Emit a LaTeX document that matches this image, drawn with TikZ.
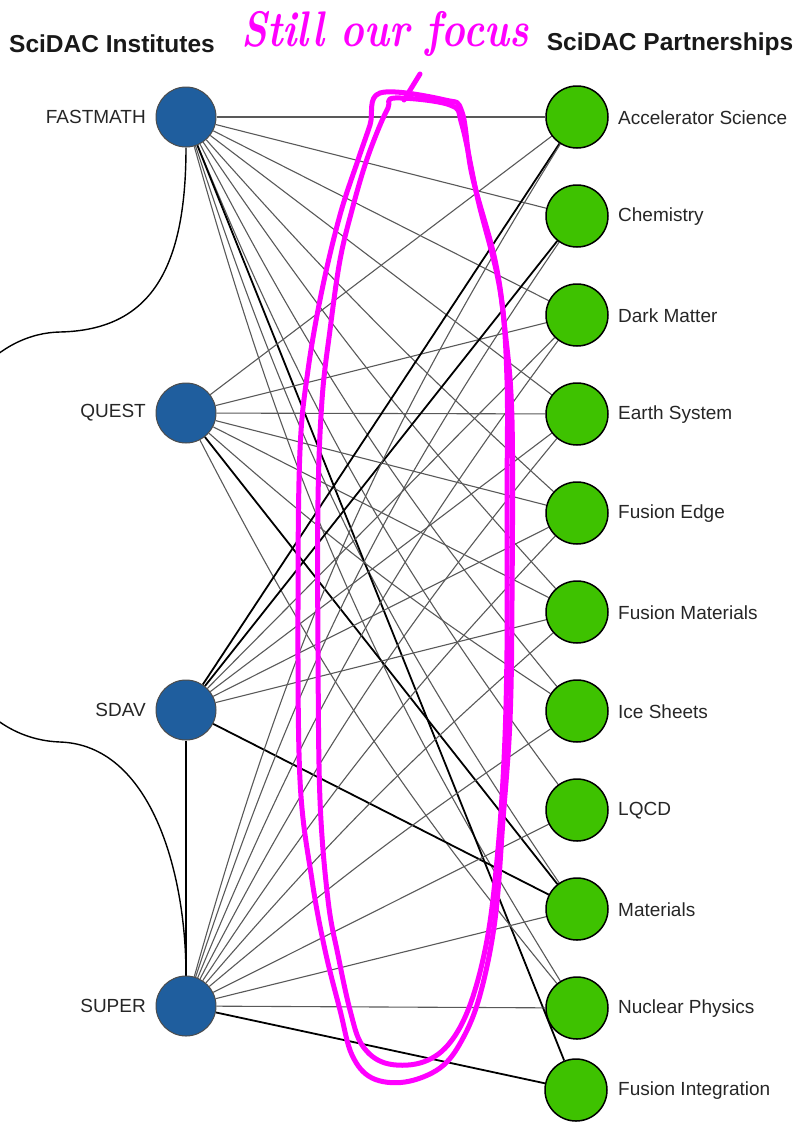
\documentclass[tikz,border=0pt]{standalone}
\usepackage{fontspec}
\setsansfont{Liberation Sans}
\usetikzlibrary{backgrounds}
\definecolor{instblue}{HTML}{1F5E9E}
\definecolor{partgreen}{HTML}{3EC200}
\definecolor{penpink}{HTML}{FF00FF}

\begin{document}
\begin{tikzpicture}[x=1pt,y=-1pt]
    \tikzstyle{every node}+=[inner sep=0pt]
    \tikzstyle{inst}=[circle,draw=black!70,fill=instblue,minimum size=60pt,line width=1pt]
    \tikzstyle{part}=[circle,draw=black,fill=partgreen,minimum size=62pt,line width=1.5pt]
    \tikzstyle{lab}=[font=\sffamily\fontsize{19}{19}\selectfont,text=black!85]
    \tikzstyle{head}=[font=\sffamily\bfseries\fontsize{24.5}{24.5}\selectfont,text=black!90]
    \tikzstyle{link}=[draw=black!65,line width=1.1pt]
    \tikzstyle{mainlink}=[draw=black,line width=1.8pt]
    \tikzstyle{pen}=[draw=penpink,line width=5pt,line cap=round,line join=round]
    \useasboundingbox (0,0) rectangle (795,1128);

    % headings
    \node[head] (insthead) at (112,44) {SciDAC Institutes};
    \node[head] (parthead) at (670,44) {SciDAC Partnerships};

    % institutes
    \node[inst] (fastmath) at (186,117) {};
    \node[lab,anchor=east] (fastmath-l) at (146,117) {FASTMATH};
    \node[inst] (quest) at (186,413) {};
    \node[lab,anchor=east] (quest-l) at (146,413) {QUEST};
    \node[inst] (sdav) at (186,710) {};
    \node[lab,anchor=east] (sdav-l) at (146,710) {SDAV};
    \node[inst] (super) at (186,1006) {};
    \node[lab,anchor=east] (super-l) at (146,1006) {SUPER};

    % partnerships
    \node[part] (accel) at (577,117) {};
    \node[lab,anchor=west] (accel-l) at (618,118) {Accelerator Science};
    \node[part] (chem) at (577,216) {};
    \node[lab,anchor=west] (chem-l) at (618,217) {Chemistry};
    \node[part] (dark) at (577,315) {};
    \node[lab,anchor=west] (dark-l) at (618,316) {Dark Matter};
    \node[part] (earth) at (577,414) {};
    \node[lab,anchor=west] (earth-l) at (618,415) {Earth System};
    \node[part] (fedge) at (577,513) {};
    \node[lab,anchor=west] (fedge-l) at (618,514) {Fusion Edge};
    \node[part] (fmat) at (577,612) {};
    \node[lab,anchor=west] (fmat-l) at (618,613) {Fusion Materials};
    \node[part] (ice) at (577,711) {};
    \node[lab,anchor=west] (ice-l) at (618,712) {Ice Sheets};
    \node[part] (lqcd) at (577,810) {};
    \node[lab,anchor=west] (lqcd-l) at (618,811) {LQCD};
    \node[part] (mat) at (577,909) {};
    \node[lab,anchor=west] (mat-l) at (618,910) {Materials};
    \node[part] (nuc) at (577,1008) {};
    \node[lab,anchor=west] (nuc-l) at (618,1009) {Nuclear Physics};
    \node[part] (finteg) at (576,1090) {};
    \node[lab,anchor=west] (finteg-l) at (618,1091) {Fusion Integration};

    \begin{scope}[on background layer]
    % FASTMATH
    \draw[link] (fastmath) -- (accel);
    \draw[link] (fastmath) -- (chem);
    \draw[link] (fastmath) -- (dark);
    \draw[link] (fastmath) -- (earth);
    \draw[link] (fastmath) to[bend right=3] (fedge);
    \draw[link] (fastmath) to[bend right=4] (fmat);
    \draw[link] (fastmath) to[bend right=6] (ice);
    \draw[link] (fastmath) to[bend right=7] (lqcd);
    \draw[link] (fastmath) to[bend right=8] (mat);
    \draw[link] (fastmath) to[bend right=8] (nuc);
    \draw[mainlink] (fastmath) -- (finteg);
    % QUEST
    \draw[link] (quest) -- (accel);
    \draw[link] (quest) -- (dark);
    \draw[link] (quest) -- (earth);
    \draw[link] (quest) -- (fedge);
    \draw[link] (quest) -- (fmat);
    \draw[link] (quest) to[bend right=4] (ice);
    \draw[link] (quest) to[bend right=6] (nuc);
    \draw[mainlink] (quest) -- (mat);
    % SDAV
    \draw[mainlink] (sdav) -- (accel);
    \draw[mainlink] (sdav) -- (chem);
    \draw[link] (sdav) -- (dark);
    \draw[link] (sdav) -- (earth);
    \draw[link] (sdav) -- (fedge);
    \draw[link] (sdav) -- (fmat);
    \draw[mainlink] (sdav) -- (mat);
    \draw[mainlink] (sdav) -- (super);
    % SUPER
    \draw[link] (super) to[bend left=8] (accel);
    \draw[link] (super) to[bend left=8] (chem);
    \draw[link] (super) to[bend left=7] (dark);
    \draw[link] (super) to[bend left=6] (earth);
    \draw[link] (super) to[bend left=5] (fedge);
    \draw[link] (super) to[bend left=4] (fmat);
    \draw[link] (super) to[bend left=3] (ice);
    \draw[link] (super) -- (lqcd);
    \draw[link] (super) -- (mat);
    \draw[link] (super) -- (nuc);
    \draw[mainlink] (super) -- (finteg);
    % FASTMATH - SUPER round the left side
    \begin{scope}
    \clip (0,0) rectangle (795,1128);
    \draw[draw=black,line width=1.4pt] (fastmath) .. controls (186,270) and (150,330) .. (60,332)
        .. controls (0,333) and (-70,390) .. (-70,535)
        .. controls (-70,690) and (0,740) .. (60,742)
        .. controls (150,745) and (186,870) .. (super);
    \end{scope}
    \end{scope}

    % hand-drawn note
    \node[text=penpink,font=\itshape\bfseries\fontsize{50}{50}\selectfont] (focus) at (385,34) {\scalebox{0.8}[1]{Still our focus}};
    \draw[pen] (420,74) -- (404,100);
    \draw[pen] plot[smooth cycle,tension=0.6] coordinates {(380,93) (445,100) (462,112) (472,175) (495,260) (505,330) (512,420) (512,600) (510,720) (503,820) (495,920) (480,995) (462,1040) (440,1068) (405,1082) (372,1078) (352,1055) (340,1010) (325,950) (312,880) (300,780) (298,600) (300,450) (308,370) (322,290) (340,215) (358,160) (370,125)};
    \draw[pen] plot[smooth cycle,tension=0.6] coordinates {(395,98) (450,105) (462,125) (478,200) (500,290) (507,380) (507,500) (507,650) (504,760) (497,860) (487,940) (470,1005) (448,1045) (420,1063) (385,1063) (362,1045) (350,1010) (338,955) (328,900) (320,800) (318,650) (318,500) (322,400) (330,330) (340,260) (352,210) (365,165) (378,130) (388,108)};
\end{tikzpicture}
\end{document}
